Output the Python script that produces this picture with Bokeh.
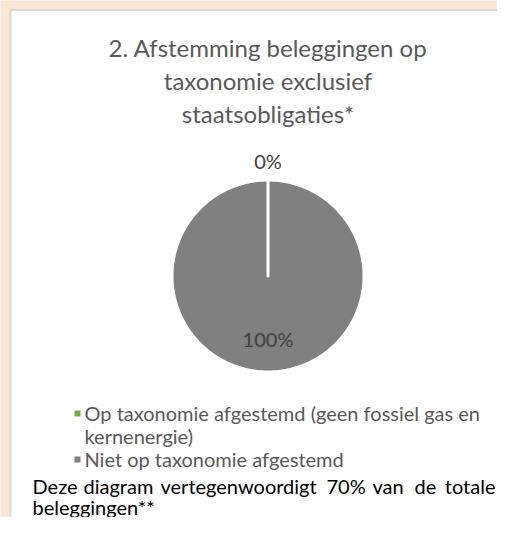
import math
from bokeh.plotting import figure
from bokeh.models import Range1d, ColumnDataSource
from bokeh.core.properties import value
from bokeh.embed import file_html
from bokeh.resources import INLINE

# ---------------- data ----------------
title_lines = ["2. Afstemming beleggingen op", "taxonomie exclusief", "staatsobligaties*"]
categories = ["Op taxonomie afgestemd (geen fossiel gas en kernenergie)",
              "Niet op taxonomie afgestemd"]
legend_lines = [["Op taxonomie afgestemd (geen fossiel gas en", "kernenergie)"],
                ["Niet op taxonomie afgestemd"]]
values = [0, 100]
colors = ["#70AD47", "#808080"]
footer_words = ["Deze", "diagram", "vertegenwoordigt", "70%", "van", "de", "totale"]
footer_line2 = "beleggingen**"

# ---------------- layout (pixel coords from top-left) ----------------
W, H = 497, 517
FONT = "Lato"

def Y(py):
    return H - py

p = figure(width=W, height=H, output_backend="svg", toolbar_location=None,
           x_range=Range1d(0, W), y_range=Range1d(0, H),
           min_border=0, outline_line_color=None)
p.axis.visible = False
p.grid.visible = False
p.background_fill_color = "#FBE7D5"
p.border_fill_color = "#FBE7D5"

# white panel with thin grey frame
p.quad(left=[10], right=[W + 20], top=[Y(9.5)], bottom=[Y(H + 20)],
       fill_color="white", line_color="#D9D9D9", line_width=2)

# title
for i, t in enumerate(title_lines):
    p.text(x=[267.5], y=[Y(47 + 33 * i)], text=[t], text_font=value(FONT),
           text_font_size="24px", text_color="#595959", text_align="center",
           text_baseline="middle")

# pie (slices built from the values, clockwise from 12 o'clock)
cx, cy, r = 267.5, 275.5, 96
total = sum(values)
cum = 0.0
xs, ys, mids = [], [], []
for v in values:
    a0 = math.pi / 2 - 2 * math.pi * cum / total
    cum += v
    a1 = math.pi / 2 - 2 * math.pi * cum / total
    n = max(2, int(abs(a1 - a0) / math.radians(0.5)) + 1)
    angs = [a0 + (a1 - a0) * k / (n - 1) for k in range(n)]
    xs.append([cx] + [cx + r * math.cos(a) for a in angs])
    ys.append([Y(cy)] + [Y(cy) + r * math.sin(a) for a in angs])
    mids.append((a0 + a1) / 2)

src = ColumnDataSource(dict(xs=xs, ys=ys, color=colors, cat=categories))
p.patches(xs="xs", ys="ys", fill_color="color", line_color="white",
          line_width=3, line_join="round", source=src)

# data labels: small slice outside end, large slice inside
pct_labels = [f"{round(100 * v / total)}%" for v in values]
for i, (lab, m) in enumerate(zip(pct_labels, mids)):
    d = r + 19 if values[i] / total < 0.5 else r * 0.66
    lx = cx + d * math.cos(m)
    ly = Y(cy) + d * math.sin(m)
    p.text(x=[lx], y=[ly], text=[lab], text_font=value(FONT),
           text_font_size="20px", text_color="#404040", text_align="center",
           text_baseline="middle")

# legend
leg_y = 412
for i, lines in enumerate(legend_lines):
    p.scatter(x=[77], y=[Y(leg_y + 1)], marker="square", size=6,
              fill_color=colors[i], line_color=None)
    for ln in lines:
        p.text(x=[84], y=[Y(leg_y)], text=[ln], text_font=value(FONT),
               text_font_size="20px", text_color="#595959",
               text_baseline="middle")
        leg_y += 23

# footer (justified first line)
fx = [32, 83, 160, 326, 372, 414, 495]
for j, w in enumerate(footer_words):
    p.text(x=[fx[j]], y=[Y(485)], text=[w], text_font=value(FONT),
           text_font_size="20px", text_color="#000000",
           text_align="right" if j == len(footer_words) - 1 else "left",
           text_baseline="middle")
p.text(x=[32], y=[Y(506)], text=[footer_line2], text_font=value(FONT),
       text_font_size="20px", text_color="#000000", text_baseline="middle")

open("out.html", "w").write(file_html(p, INLINE))
